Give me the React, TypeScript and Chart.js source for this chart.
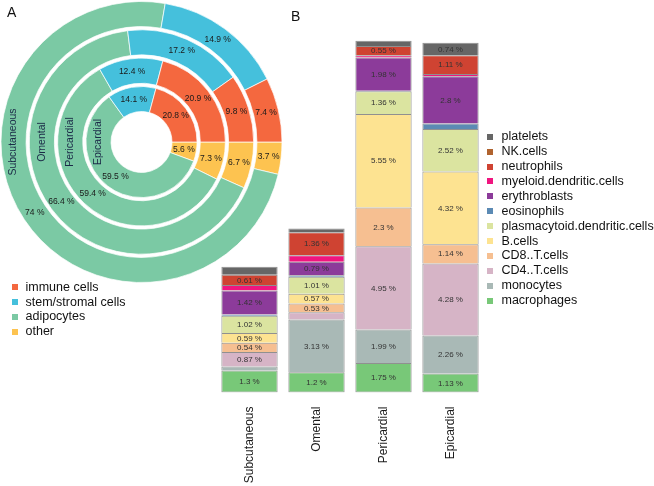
import React, { useEffect, useRef } from "react";
import { Chart, registerables } from "chart.js";

Chart.register(...registerables);

// ---------- Panel A data ----------
const regions = ["Subcutaneous", "Omental", "Pericardial", "Epicardial"];
const compartments = ["immune cells", "stem/stromal cells", "adipocytes", "other"];
const immuneCells = [7.4, 9.8, 20.9, 20.8];
const stromalCells = [14.9, 17.2, 12.4, 14.1];
const adipocyteCells = [74, 66.4, 59.4, 59.5];
const otherCells = [3.7, 6.7, 7.3, 5.6];
const compartmentColors = ["#f4683f", "#45c0dc", "#7bc9a4", "#fdc350"];

// ---------- Panel B data (bottom to top of the stack) ----------
const cellTypes = [
  "macrophages",
  "monocytes",
  "CD4..T.cells",
  "CD8..T.cells",
  "B.cells",
  "plasmacytoid.dendritic.cells",
  "eosinophils",
  "erythroblasts",
  "myeloid.dendritic.cells",
  "neutrophils",
  "NK.cells",
  "platelets",
];
const macrophages = [1.3, 1.2, 1.75, 1.13];
const monocytes = [0.24, 3.13, 1.99, 2.26];
const cd4T = [0.87, 0.43, 4.95, 4.28];
const cd8T = [0.54, 0.53, 2.3, 1.14];
const bCells = [0.59, 0.57, 5.55, 4.32];
const pDC = [1.02, 1.01, 1.36, 2.52];
const eosinophils = [0.08, 0.1, 0.02, 0.33];
const erythroblasts = [1.42, 0.79, 1.98, 2.8];
const myeloidDC = [0.32, 0.4, 0.14, 0.14];
const neutrophils = [0.61, 1.36, 0.55, 1.11];
const nkCells = [0, 0, 0, 0];
const platelets = [0.48, 0.22, 0.3, 0.74];
const cellValues = [
  macrophages, monocytes, cd4T, cd8T, bCells, pDC,
  eosinophils, erythroblasts, myeloidDC, neutrophils, nkCells, platelets,
];
const cellColors = [
  "#78c878", "#a9b9b6", "#d6b4c6", "#f6bf91", "#fde391", "#dbe4a0",
  "#5b8ab4", "#8c3b9a", "#f0157f", "#cf4332", "#b0632f", "#666666",
];
const yMax = 21;

const FONT = "'Liberation Sans', Arial, Helvetica, sans-serif";
const GAP_WEIGHT = 0.13;

const donutLabelPlugin = {
  id: "donutLabels",
  afterDatasetsDraw(chart: any) {
    const ctx = chart.ctx;
    ctx.save();
    chart.data.datasets.forEach((ds: any, di: number) => {
      if (ds.isGap) return;
      const meta = chart.getDatasetMeta(di);
      meta.data.forEach((arc: any, i: number) => {
        const p = arc.getCenterPoint();
        ctx.font = `8.5px ${FONT}`;
        ctx.fillStyle = "#1a1a1a";
        ctx.textAlign = "center";
        ctx.textBaseline = "middle";
        ctx.fillText(`${ds.data[i]} %`, p.x, p.y);
      });
      const a0 = meta.data[0];
      const mid = (a0.innerRadius + a0.outerRadius) / 2;
      ctx.save();
      ctx.translate(a0.x - mid, a0.y);
      ctx.rotate(-Math.PI / 2);
      ctx.font = `10.5px ${FONT}`;
      ctx.fillStyle = "#1b2a47";
      ctx.textAlign = "center";
      ctx.textBaseline = "middle";
      ctx.fillText(ds.label, 0, 0);
      ctx.restore();
    });
    ctx.restore();
  },
};

const barLabelPlugin = {
  id: "barLabels",
  afterDatasetsDraw(chart: any) {
    const ctx = chart.ctx;
    ctx.save();
    ctx.font = `8px ${FONT}`;
    ctx.fillStyle = "#333333";
    ctx.textAlign = "center";
    ctx.textBaseline = "middle";
    chart.data.datasets.forEach((ds: any, di: number) => {
      const meta = chart.getDatasetMeta(di);
      meta.data.forEach((bar: any, i: number) => {
        const v = ds.data[i];
        if (v >= 0.5) {
          const p = bar.getCenterPoint();
          ctx.fillText(`${v} %`, p.x, p.y + 0.5);
        }
      });
    });
    ctx.restore();
  },
};

export default function App() {
  const donutRef = useRef<HTMLCanvasElement>(null);
  const barRef = useRef<HTMLCanvasElement>(null);

  useEffect(() => {
    const ringDatasets: any[] = [];
    regions.forEach((r, i) => {
      if (i > 0) {
        ringDatasets.push({
          label: "gap",
          isGap: true,
          data: [1],
          backgroundColor: ["rgba(0,0,0,0)"],
          borderWidth: 0,
          hoverBorderWidth: 0,
          weight: GAP_WEIGHT,
        });
      }
      ringDatasets.push({
        label: r,
        data: [otherCells[i], adipocyteCells[i], stromalCells[i], immuneCells[i]],
        backgroundColor: [
          compartmentColors[3],
          compartmentColors[2],
          compartmentColors[1],
          compartmentColors[0],
        ],
        borderColor: "rgba(255,255,255,0.7)",
        borderWidth: 1,
        hoverBorderWidth: 1,
        weight: 1,
      });
    });

    const donut = new Chart(donutRef.current!, {
      type: "doughnut",
      data: { labels: ["other", "adipocytes", "stem/stromal cells", "immune cells"], datasets: ringDatasets },
      options: {
        animation: false,
        responsive: false,
        maintainAspectRatio: false,
        rotation: 90,
        cutout: "21.7%",
        layout: { padding: 0 },
        events: [],
        plugins: { legend: { display: false }, tooltip: { enabled: false } },
      } as any,
      plugins: [donutLabelPlugin],
    });

    const bar = new Chart(barRef.current!, {
      type: "bar",
      data: {
        labels: regions,
        datasets: cellTypes.map((c, k) => ({
          label: c,
          data: cellValues[k],
          backgroundColor: cellColors[k],
          borderColor: "rgba(70,70,70,0.6)",
          borderWidth: (ctx: any) =>
            ctx.raw > 0 ? { top: 1, left: 1, right: 1, bottom: k === 0 ? 1 : 0 } : 0,
          borderSkipped: false,
          barPercentage: 0.84,
          categoryPercentage: 1,
        })),
      },
      options: {
        animation: false,
        responsive: false,
        maintainAspectRatio: false,
        layout: { padding: 0 },
        events: [],
        plugins: { legend: { display: false }, tooltip: { enabled: false } },
        scales: {
          x: {
            stacked: true,
            grid: { display: false, drawTicks: false },
            border: { display: false },
            ticks: {
              minRotation: 90,
              maxRotation: 90,
              padding: 14,
              color: "#1a1a1a",
              font: { family: FONT, size: 12 },
            },
            afterFit: (s: any) => {
              s.height = 93.5;
            },
          },
          y: { stacked: true, display: false, min: 0, max: yMax },
        },
      } as any,
      plugins: [barLabelPlugin],
    });

    return () => {
      donut.destroy();
      bar.destroy();
    };
  }, []);

  const legendA = compartments.map((c, i) => (
    <div
      key={c}
      style={{ position: "absolute", left: 0, top: 287.3 + i * 14.8 - 7.5, height: 15, width: 200 }}
    >
      <div
        style={{
          position: "absolute", left: 11.5, top: 4.5, width: 6, height: 6,
          background: compartmentColors[i],
        }}
      />
      <div
        style={{
          position: "absolute", left: 25.5, top: 0, lineHeight: "15px",
          fontSize: 12.5, color: "#111", whiteSpace: "nowrap",
        }}
      >
        {c}
      </div>
    </div>
  ));

  const legendOrder = cellTypes.map((_, k) => k).reverse();
  const legendB = legendOrder.map((k, row) => (
    <div
      key={cellTypes[k]}
      style={{ position: "absolute", left: 480, top: 136.7 + row * 14.9 - 7.5, height: 15, width: 174 }}
    >
      <div
        style={{
          position: "absolute", left: 7, top: 4.5, width: 6, height: 6,
          background: cellColors[k],
        }}
      />
      <div
        style={{
          position: "absolute", left: 21.5, top: 0, lineHeight: "15px",
          fontSize: 12.5, color: "#111", whiteSpace: "nowrap",
        }}
      >
        {cellTypes[k]}
      </div>
    </div>
  ));

  return (
    <div
      style={{
        position: "absolute", left: 0, top: 0, width: 654, height: 486,
        background: "#fff", fontFamily: FONT, overflow: "hidden",
      }}
    >
      <canvas
        ref={donutRef}
        width={283}
        height={282}
        style={{ position: "absolute", left: 0, top: 1, width: 283, height: 282 }}
      />
      <canvas
        ref={barRef}
        width={268}
        height={447}
        style={{ position: "absolute", left: 216, top: 39, width: 268, height: 447 }}
      />
      <div style={{ position: "absolute", left: 7, top: 3, fontSize: 14, lineHeight: "18px", color: "#111" }}>A</div>
      <div style={{ position: "absolute", left: 291, top: 7, fontSize: 14, lineHeight: "18px", color: "#111" }}>B</div>
      {legendA}
      {legendB}
    </div>
  );
}
